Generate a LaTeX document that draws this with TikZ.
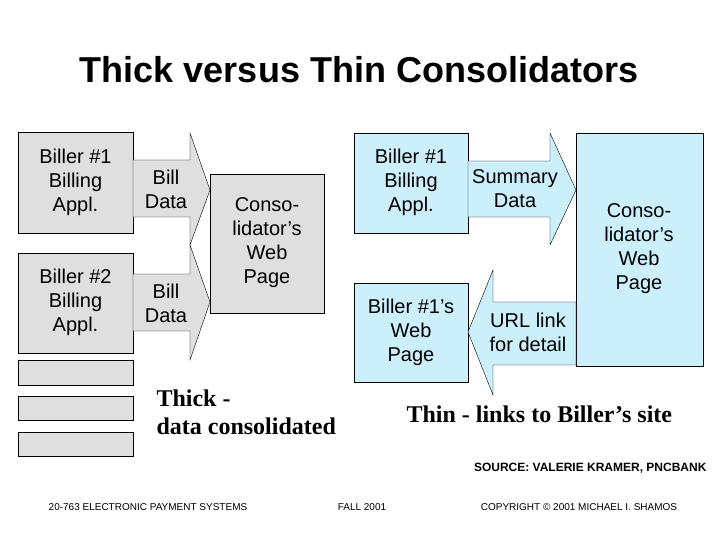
\documentclass[tikz,border=0pt]{standalone}
\usepackage{fontspec}
\setmainfont{Liberation Sans}
\newfontfamily\tnr{Liberation Serif}
\begin{document}
\begin{tikzpicture}[x=1pt,y=-1pt,
  gbox/.style={draw=black,fill=gray!25},
  lbl/.style={align=center,font=\fontsize{20}{24}\selectfont},
  bigt/.style={font=\tnr\bfseries\fontsize{24}{28}\selectfont,align=left,anchor=north west}]
\useasboundingbox (0,0) rectangle (720,540);
\colorlet{lb}{cyan!20}
% left gray
\path[gbox] (18,132) rectangle (133,233);
\node[lbl] (b1) at (75.5,182) {Biller \#1\\Billing\\Appl.};
\path[gbox] (18,253) rectangle (133,353);
\node[lbl] (b2) at (75.5,302) {Biller \#2\\Billing\\Appl.};
\path[gbox] (18,360) rectangle (133,385);
\path[gbox] (18,396) rectangle (133,420);
\path[gbox] (18,432) rectangle (133,456);
\path[gbox] (133,160) -- (190,160) -- (190,133) -- (210,190) -- (190,245) -- (190,217) -- (133,217) -- cycle;
\node[lbl] (a1) at (166,189) {Bill\\Data};
\path[gbox] (133,274) -- (190,274) -- (190,245) -- (210,302) -- (190,360) -- (190,331) -- (133,331) -- cycle;
\node[lbl] (a2) at (166,303) {Bill\\Data};
\path[gbox] (210,174) rectangle (324,313);
\node[lbl] (c1) at (267,243) {Conso-\\lidator’s\\Web\\Page};
\node[bigt] (t1) at (153,386) {Thick -\\data consolidated};
% right blue
\path[draw,fill=lb] (354,133) rectangle (468,233);
\node[lbl] (r1) at (411,182) {Biller \#1\\Billing\\Appl.};
\path[draw,fill=lb] (468,161) -- (550,161) -- (550,133) -- (576,190) -- (550,245) -- (550,217) -- (468,217) -- cycle;
\node[lbl] (s1) at (515,189) {Summary\\Data};
\path[draw,fill=lb] (576,133) rectangle (703,366);
\node[lbl] (c2) at (639,249) {Conso-\\lidator’s\\Web\\Page};
\path[draw,fill=lb] (354,283) rectangle (468,382);
\node[lbl] (w1) at (411,332) {Biller \#1’s\\Web\\Page};
\path[draw,fill=lb] (576,302) -- (493,302) -- (493,270) -- (468,332) -- (493,395) -- (493,365) -- (576,365) -- cycle;
\node[lbl] (u1) at (528,332) {URL link\\for detail};
\node[bigt,anchor=west] (t2) at (403,414) {Thin - links to Biller’s site};
% title & footers
\node[font=\bfseries\fontsize{36}{42}\selectfont] (ti) at (359,70) {Thick versus Thin Consolidators};
\node[font=\bfseries\fontsize{12}{14}\selectfont,anchor=east] (src) at (710,468) {SOURCE: VALERIE KRAMER, PNCBANK};
\node[font=\fontsize{10}{12}\selectfont] (f1) at (148,507) {20-763 ELECTRONIC PAYMENT SYSTEMS};
\node[font=\fontsize{10}{12}\selectfont] (f2) at (362,507) {FALL 2001};
\node[font=\fontsize{10}{12}\selectfont] (f3) at (579,507) {COPYRIGHT © 2001 MICHAEL I. SHAMOS};
\end{tikzpicture}
\end{document}
